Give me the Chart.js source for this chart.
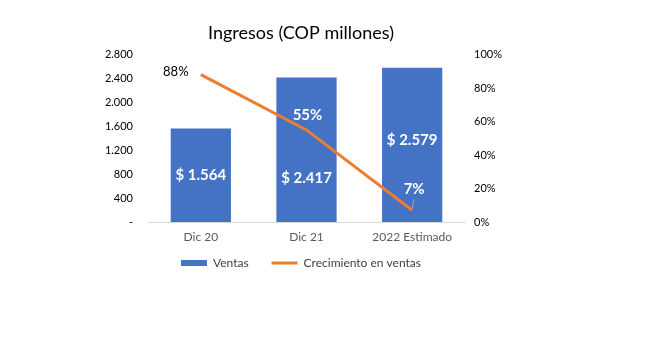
<!DOCTYPE html>
<html>
<head>
<meta charset="utf-8">
<script src="https://cdn.jsdelivr.net/npm/chart.js@4.4.1/dist/chart.umd.min.js"></script>
<style>
  html, body { margin: 0; padding: 0; background: #fff; }
  #wrap { width: 650px; height: 344px; }
</style>
</head>
<body>
<div id="wrap"><canvas id="ingresos" width="650" height="344"></canvas></div>
<script>
var categories = ["Dic 20", "Dic 21", "2022 Estimado"];
var ventas = [1564, 2417, 2579];
var crecimiento = [88, 55, 7];
var ventasLabels = ["$ 1.564", "$ 2.417", "$ 2.579"];
var crecimientoLabels = ["88%", "55%", "7%"];

var FONT = "Lato, 'Open Sans', sans-serif";

// draws the value labels (no datalabels plugin offline)
var valueLabels = {
  id: "valueLabels",
  afterDatasetsDraw: function (chart) {
    var ctx = chart.ctx;
    var pts = chart.getDatasetMeta(0).data;
    var bars = chart.getDatasetMeta(1).data;
    var yScale = chart.scales.y;
    var barPos = [0.5, 0.3, 0.53];
    ctx.save();
    ctx.textAlign = "center";
    ctx.textBaseline = "middle";
    ctx.fillStyle = "#ffffff";
    ctx.font = "bold 15px " + FONT;
    bars.forEach(function (b, i) {
      var y = yScale.getPixelForValue(ventas[i] * barPos[i]);
      ctx.fillText(ventasLabels[i], b.x, y);
    });

    // line labels
    ctx.fillStyle = "#000000";
    ctx.font = "13px " + FONT;
    ctx.fillText(crecimientoLabels[0], pts[0].x - 25, pts[0].y - 3);

    ctx.fillStyle = "#ffffff";
    ctx.font = "bold 15px " + FONT;
    ctx.fillText(crecimientoLabels[1], pts[1].x + 1, pts[1].y - 15);
    ctx.fillText(crecimientoLabels[2], pts[2].x + 2, pts[2].y - 21);

    // leader line for 7%
    ctx.strokeStyle = "#a6a6a6";
    ctx.lineWidth = 1;
    ctx.beginPath();
    ctx.moveTo(pts[2].x + 2, pts[2].y - 11);
    ctx.lineTo(pts[2].x, pts[2].y - 2);
    ctx.stroke();
    ctx.restore();
  }
};

var ctx = document.getElementById("ingresos").getContext("2d");
new Chart(ctx, {
  type: "bar",
  data: {
    labels: categories,
    datasets: [
      {
        type: "line",
        label: "Crecimiento en ventas",
        data: crecimiento,
        yAxisID: "y1",
        borderColor: "#ED7D31",
        backgroundColor: "#ED7D31",
        borderWidth: 3,
        pointRadius: 0,
        tension: 0,
        order: 0
      },
      {
        label: "Ventas",
        data: ventas,
        yAxisID: "y",
        backgroundColor: "#4472C4",
        categoryPercentage: 1,
        barPercentage: 0.57,
        order: 1
      }
    ]
  },
  options: {
    responsive: false,
    animation: false,
    layout: { padding: { top: 0, bottom: 65, left: 0, right: 48 } },
    plugins: {
      tooltip: { enabled: false },
      title: {
        display: true,
        text: "Ingresos (COP millones)",
        color: "#000000",
        font: { family: FONT, size: 18, weight: "normal" },
        padding: { top: 22, bottom: 11 }
      },
      legend: {
        position: "bottom",
        labels: {
          color: "#404040",
          font: { family: FONT, size: 12 },
          usePointStyle: true,
          pointStyleWidth: 26,
          boxHeight: 6,
          padding: 11,
          generateLabels: function (chart) {
            var ds = chart.data.datasets;
            return [
              { text: ds[1].label + "\u2002\u2002", fillStyle: "#4472C4", strokeStyle: "#4472C4", lineWidth: 0, pointStyle: "rect", datasetIndex: 1, fontColor: "#404040" },
              { text: ds[0].label, fillStyle: "#ED7D31", strokeStyle: "#ED7D31", lineWidth: 3, pointStyle: "line", datasetIndex: 0, fontColor: "#404040" }
            ];
          }
        }
      }
    },
    scales: {
      x: {
        afterFit: function (s) { s.height = 24; },
        grid: { display: false, drawTicks: false },
        border: { display: true, color: "#d9d9d9" },
        ticks: { color: "#595959", font: { family: FONT, size: 12 }, padding: 8 }
      },
      y: {
        position: "left",
        min: 0,
        max: 2800,
        afterFit: function (s) { s.width = 148; },
        grid: { display: false, drawTicks: false },
        border: { display: false },
        ticks: {
          stepSize: 400,
          padding: 15,
          color: "#000000",
          font: { family: FONT, size: 11 },
          callback: function (v) {
            if (v === 0) return "-";
            return v.toLocaleString("de-DE");
          }
        }
      },
      y1: {
        position: "right",
        min: 0,
        max: 100,
        afterFit: function (s) { s.width = 137; },
        grid: { display: false, drawTicks: false },
        border: { display: false },
        ticks: {
          stepSize: 20,
          padding: 9,
          color: "#000000",
          font: { family: FONT, size: 11 },
          callback: function (v) { return v + "%"; }
        }
      }
    }
  },
  plugins: [valueLabels]
});
</script>
</body>
</html>
